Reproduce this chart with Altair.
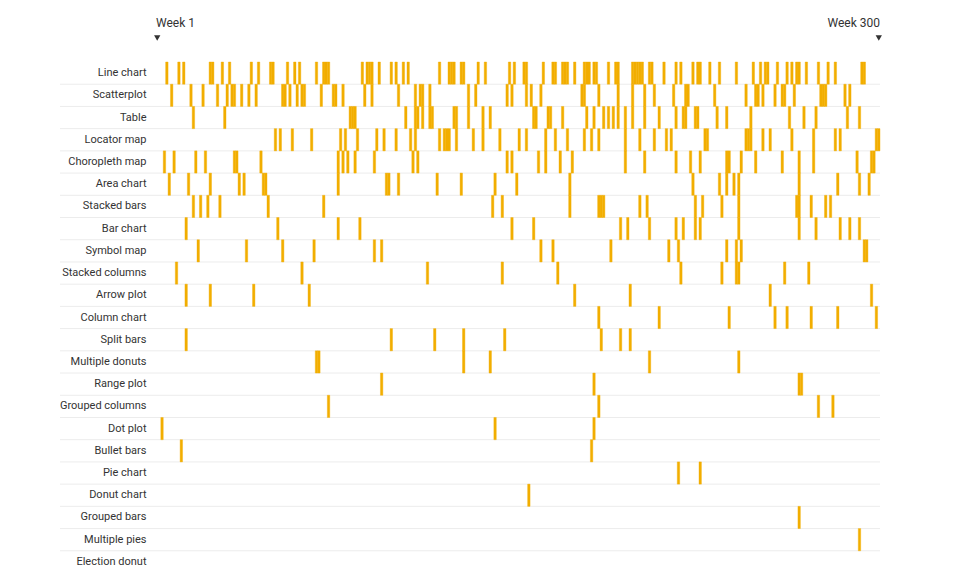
import altair as alt
import pandas as pd

categories = ["Line chart", "Scatterplot", "Table", "Locator map", "Choropleth map",
              "Area chart", "Stacked bars", "Bar chart", "Symbol map", "Stacked columns",
              "Arrow plot", "Column chart", "Split bars", "Multiple donuts", "Range plot",
              "Grouped columns", "Dot plot", "Bullet bars", "Pie chart", "Donut chart",
              "Grouped bars", "Multiple pies", "Election donut"]

line_chart = [5, 10, 12, 23, 24, 28, 31, 40, 43, 48, 49, 55, 58, 60, 67, 70, 71, 72, 86, 88, 89, 90,
              93, 98, 100, 103, 105, 118, 122, 123, 124, 127, 128, 134, 137, 147, 149, 153, 154, 161,
              165, 166, 169, 170, 171, 174, 178, 179, 180, 182, 183, 188, 191, 192, 198, 199, 200,
              201, 202, 205, 206, 211, 216, 218, 223, 225, 226, 230, 234, 241, 248, 251, 253, 254,
              258, 262, 264, 266, 267, 270, 275, 279, 282, 293, 294]
scatterplot = [7, 15, 20, 26, 30, 32, 33, 36, 39, 42, 53, 54, 56, 59, 61, 62, 69, 74, 75, 78, 87, 90,
               101, 108, 110, 111, 114, 130, 133, 146, 148, 154, 156, 160, 177, 178, 184, 192, 198,
               203, 207, 215, 220, 221, 232, 245, 249, 250, 252, 257, 260, 261, 265, 276, 277, 278,
               286, 288]
table = [16, 29, 81, 82, 83, 104, 108, 109, 111, 114, 115, 124, 125, 130, 136, 139, 157, 158, 163,
         164, 169, 179, 182, 186, 188, 190, 192, 195, 198, 203, 209, 216, 219, 220, 224, 225, 233,
         237, 247, 263, 269, 274, 287, 292]
locator_map = [50, 52, 57, 65, 77, 79, 84, 92, 95, 100, 106, 108, 118, 120, 121, 122, 125, 132, 136,
               143, 151, 154, 162, 166, 171, 178, 181, 184, 195, 201, 207, 212, 214, 228, 229, 245,
               246, 247, 252, 255, 264, 273, 282, 284, 299, 300]
choropleth_map = [4, 8, 17, 21, 33, 34, 44, 76, 78, 80, 83, 91, 107, 109, 146, 148, 159, 162, 168,
                  173, 195, 203, 216, 222, 226, 237, 238, 243, 249, 260, 267, 273, 291, 297, 298]
area_chart = [6, 14, 23, 35, 37, 45, 46, 76, 96, 97, 101, 117, 127, 141, 150, 172, 223, 234, 237,
              240, 242, 267, 283, 292, 296]
stacked_bars = [16, 19, 22, 27, 47, 70, 140, 144, 172, 184, 185, 186, 201, 204, 224, 227, 235, 242,
                266, 267, 272, 278, 280]
bar_chart = [13, 51, 76, 85, 148, 157, 193, 196, 205, 216, 219, 224, 226, 242, 267, 274, 284, 288, 292]
symbol_map = [18, 38, 53, 66, 91, 94, 160, 165, 189, 213, 217, 237, 241, 243, 294, 295]
stacked_columns = [9, 61, 113, 144, 167, 218, 235, 241, 242, 261, 271]
arrow_plot = [13, 23, 41, 64, 174, 197, 255, 297]
column_chart = [184, 209, 238, 257, 262, 272, 283, 299]
split_bars = [13, 98, 116, 128, 145, 185, 193, 197]
multiple_donuts = [67, 68, 128, 139, 205, 242]
range_plot = [94, 182, 267, 268]
grouped_columns = [72, 184, 275, 281]
dot_plot = [3, 141, 182]
bullet_bars = [11, 181]
pie_chart = [217, 226]
donut_chart = [155]
grouped_bars = [267]
multiple_pies = [292]
election_donut = []

week_lists = [line_chart, scatterplot, table, locator_map, choropleth_map, area_chart,
              stacked_bars, bar_chart, symbol_map, stacked_columns, arrow_plot, column_chart,
              split_bars, multiple_donuts, range_plot, grouped_columns, dot_plot, bullet_bars,
              pie_chart, donut_chart, grouped_bars, multiple_pies, election_donut]

marker_weeks = [1, 300]
marker_labels = ["Week 1", "Week 300"]

BAR = "#F2AE00"
TEXT = "#333333"
FONT = "Roboto"

records = [{"type": c, "week": w} for c, ws in zip(categories, week_lists) for w in ws]
df = pd.DataFrame(records)
sep_df = pd.DataFrame({"type": categories[:-1]})
hdr_df = pd.DataFrame({"week": marker_weeks, "label": marker_labels})

W, H = 724, 511
x_scale = alt.Scale(domain=[0.5, 300.5], nice=False, zero=False)
y_scale = alt.Scale(domain=categories, paddingInner=0, paddingOuter=0)
y_axis = alt.Axis(title=None, ticks=False, domain=False, grid=False, labelPadding=10,
                  labelFontSize=11, labelColor=TEXT, labelFont=FONT)

seps = alt.Chart(sep_df).mark_rule(color="#ececec", strokeWidth=1).encode(
    y=alt.Y("type:N", scale=y_scale, axis=y_axis, bandPosition=1),
    x=alt.value(-96),
    x2=alt.value(W),
)

bars = alt.Chart(df).transform_calculate(
    start="datum.week - 0.5", end="datum.week + 0.5"
).mark_rect(color=BAR, stroke=BAR, strokeWidth=0.4).encode(
    x=alt.X("start:Q", scale=x_scale, axis=None),
    x2="end:Q",
    y=alt.Y("type:N", scale=y_scale, axis=y_axis),
)

left_lbl = alt.Chart(hdr_df).transform_filter("datum.week == 1").transform_calculate(
    edge="datum.week - 0.5"
).mark_text(align="left", baseline="middle", fontSize=12, color=TEXT, font=FONT).encode(
    x=alt.X("edge:Q", scale=x_scale, axis=None), y=alt.value(-39), text="label:N")

right_lbl = alt.Chart(hdr_df).transform_filter("datum.week == 300").transform_calculate(
    edge="datum.week + 0.5"
).mark_text(align="right", baseline="middle", fontSize=12, color=TEXT, font=FONT).encode(
    x=alt.X("edge:Q", scale=x_scale, axis=None), y=alt.value(-39), text="label:N")

tri = alt.Chart(hdr_df).mark_point(shape="triangle-down", filled=True, size=40,
                                   color=TEXT, opacity=1).encode(
    x=alt.X("week:Q", scale=x_scale, axis=None), y=alt.value(-24))

chart = alt.layer(seps, bars, left_lbl, right_lbl, tri).properties(
    width=W, height=H,
    background="white",
    autosize=alt.AutoSizeParams(type="none"),
    padding={"left": 148, "top": 54, "right": 20, "bottom": 10},
).configure_view(stroke=None)

chart.save("out.html", embed_options={"renderer": "svg", "actions": False})
